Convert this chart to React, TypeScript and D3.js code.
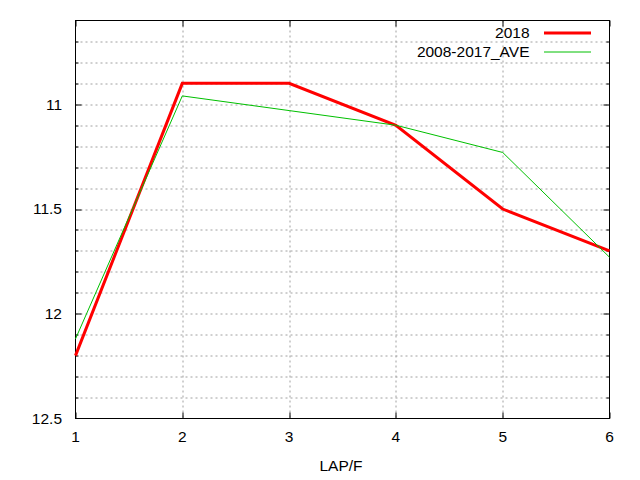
import * as d3 from 'd3'

const laps = [1, 2, 3, 4, 5, 6]
const values2018 = [12.2, 10.9, 10.9, 11.1, 11.5, 11.7]
const valuesAve = [12.12, 10.96, 11.03, 11.1, 11.23, 11.73]
const yMajorTicks = [11, 11.5, 12, 12.5]
const yMinorTicks = [10.7, 10.8, 10.9, 11, 11.1, 11.2, 11.3, 11.4, 11.5, 11.6, 11.7, 11.8, 11.9, 12, 12.1, 12.2, 12.3, 12.4]

const series = [
  { name: '2018', values: values2018, color: '#ff0000', width: 3 },
  { name: '2008-2017_AVE', values: valuesAve, color: '#00c000', width: 1 },
]

export default function App() {
  const width = 640
  const height = 480
  const margin = { top: 20.5, right: 30.5, bottom: 61.5, left: 75.5 }
  const innerW = width - margin.left - margin.right
  const innerH = height - margin.top - margin.bottom

  const x = d3.scaleLinear().domain([1, 6]).range([0, innerW])
  // reversed axis: small values on top
  const y = d3.scaleLinear().domain([10.6, 12.5]).range([0, innerH])

  const line = d3.line<number>()
    .x((_, i) => x(laps[i]))
    .y(d => y(d))

  const font = '"Liberation Sans", Arial, sans-serif'
  const fs = 15.5
  const grid = { stroke: '#a0a0a0', strokeWidth: 1, strokeDasharray: '2 3' }

  return (
    <div style={{ position: 'absolute', left: 0, top: 0 }}>
      <svg width={width} height={height} style={{ display: 'block', background: '#fff' }} fontFamily={font}>
        <g transform={`translate(${margin.left},${margin.top})`}>
          {/* horizontal grid */}
          {yMinorTicks.map(t => (
            <line key={'gy' + t} x1={0} x2={innerW} y1={Math.round(y(t)) + 0.5} y2={Math.round(y(t)) + 0.5} {...grid} />
          ))}
          {/* vertical grid */}
          {laps.slice(1, -1).map(t => (
            <line key={'gx' + t} x1={Math.round(x(t)) + 0.5} x2={Math.round(x(t)) + 0.5} y1={0} y2={innerH} {...grid} />
          ))}
          {/* ticks */}
          {yMinorTicks.map(t => {
            const yy = Math.round(y(t)) + 0.5
            const len = yMajorTicks.includes(t) ? 6 : 3
            return (
              <g key={'ty' + t} stroke="#000">
                <line x1={0} x2={len} y1={yy} y2={yy} />
                <line x1={innerW - len} x2={innerW} y1={yy} y2={yy} />
              </g>
            )
          })}
          {laps.map(t => {
            const xx = Math.round(x(t)) + 0.5
            return (
              <g key={'tx' + t} stroke="#000">
                <line x1={xx} x2={xx} y1={innerH} y2={innerH - 6} />
                <line x1={xx} x2={xx} y1={0} y2={6} />
              </g>
            )
          })}
          {/* frame */}
          <rect x={0} y={0} width={innerW} height={innerH} fill="none" stroke="#000" strokeWidth={1} />
          {/* tick labels */}
          {yMajorTicks.map(t => (
            <text key={'ly' + t} x={-13.5} y={y(t)} dy="0.35em" textAnchor="end" fontSize={fs} fill="#000">{t}</text>
          ))}
          {laps.map(t => (
            <text key={'lx' + t} x={x(t)} y={innerH + 18} dy="0.35em" textAnchor="middle" fontSize={fs} fill="#000">{t}</text>
          ))}
          <text x={x(3.5) - 1.5} y={innerH + 47.5} dy="0.35em" textAnchor="middle" fontSize={fs} fill="#000">LAP/F</text>
          {/* series */}
          {series.map(s => (
            <path key={s.name} d={line(s.values) ?? ''} fill="none" stroke={s.color} strokeWidth={s.width} strokeLinejoin="miter" />
          ))}
          {/* legend */}
          {series.map((s, i) => (
            <g key={'lg' + s.name} transform={`translate(0,${12.5 + i * 19})`}>
              <text x={454} y={0} dy="0.35em" textAnchor="end" fontSize={fs} fill="#000">{s.name}</text>
              <line x1={468.5} x2={515.5} y1={0} y2={0} stroke={s.color} strokeWidth={s.width} />
            </g>
          ))}
        </g>
      </svg>
    </div>
  )
}
